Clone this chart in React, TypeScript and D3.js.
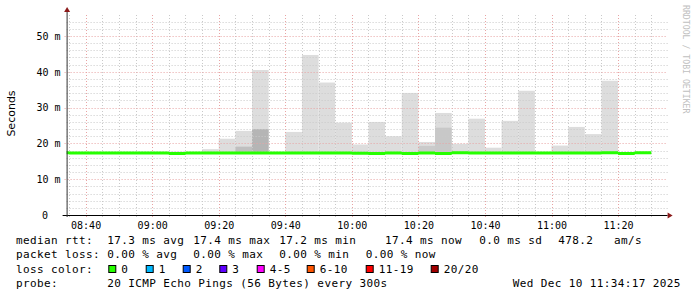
import React from 'react';
import * as d3 from 'd3';

// ---- data ----
const binStarts = [
  '08:30','08:35','08:40','08:45','08:50','08:55','09:00','09:05','09:10','09:15',
  '09:20','09:25','09:30','09:35','09:40','09:45','09:50','09:55','10:00','10:05',
  '10:10','10:15','10:20','10:25','10:30','10:35','10:40','10:45','10:50','10:55',
  '11:00','11:05','11:10','11:15','11:20','11:25'];
const medianRtt = [
  17.4, 17.3, 17.3, 17.3, 17.3, 17.3, 17.3, 17.15, 17.3, 17.3,
  17.3, 17.3, 17.3, 17.3, 17.3, 17.3, 17.3, 17.3, 17.25, 17.2,
  17.3, 17.2, 17.3, 17.2, 17.4, 17.3, 17.3, 17.3, 17.3, 17.3,
  17.3, 17.3, 17.3, 17.4, 17.2, 17.4];
const smokeMax: (number | null)[] = [
  null, null, null, null, null, null, null, 17.7, null, 18.4,
  21.3, 23.5, 40.5, null, 23.2, 44.7, 37.0, 25.8, 19.7, 26.0,
  22.0, 34.1, 20.4, 28.5, 19.9, 26.9, 18.8, 26.3, 34.7, null,
  19.4, 24.6, 22.6, 37.5, null, null];
const smokeInner: (number | null)[] = [
  null, null, null, null, null, null, null, null, null, null,
  null, 19.1, 24.0, null, null, null, null, null, null, null,
  null, null, 19.3, 24.4, null, null, null, null, null, null,
  null, null, null, null, null, null];
const smokeInnerColor = [
  '', '', '', '', '', '', '', '', '', '',
  '', '#bfbfbf', '#b5b5b5', '', '', '', '', '', '', '',
  '', '', '#cacaca', '#c8c8c8', '', '', '', '', '', '',
  '', '', '', '', '', ''];
const timeTicks = ['08:40','09:00','09:20','09:40','10:00','10:20','10:40','11:00','11:20'];
const yTicks = [0, 10, 20, 30, 40, 50];
const yTickLabels = ['0', '10 m', '20 m', '30 m', '40 m', '50 m'];
const startTime = '08:34:17';
const endTime = '11:34:17';
const dataEnd = '11:30';

const legendRtt = ['median rtt:', '17.3 ms avg', '17.4 ms max', '17.2 ms min', '17.4 ms now', '0.0 ms sd', '478.2', 'am/s'];
const legendRttX = [16, 107.3, 193.3, 279.3, 385, 479.3, 558.3, 614];
const legendLoss = ['packet loss:', '0.00 % avg', '0.00 % max', '0.00 % min', '0.00 % now'];
const legendLossX = [16, 107.3, 193.3, 279.3, 365.7];
const lossLabels = ['0', '1', '2', '3', '4-5', '6-10', '11-19', '20/20'];
const lossColors = ['#26ff00', '#00b8ff', '#0059ff', '#5e00ff', '#ff00ff', '#ff5500', '#ff0000', '#a10000'];
const lossBoxX = [108.3, 145.7, 182.7, 219.3, 256.7, 306.7, 365.7, 430.7];
const probeText = '20 ICMP Echo Pings (56 Bytes) every 300s';
const dateText = 'Wed Dec 10 11:34:17 2025';

const parseT = (s: string) => {
  const p = s.split(':').map(Number);
  return p[0] * 3600 + p[1] * 60 + (p[2] || 0);
};

export default function App() {
  const t0 = parseT(startTime), t1 = parseT(endTime);
  const x = d3.scaleLinear().domain([t0, t1]).range([66.6, 665.6]);
  const y = d3.scaleLinear().domain([0, 56]).range([215, 215 - 56 * 3.58]);
  const step = 300;
  const cx = (t: number) => x(Math.max(t0, Math.min(t1, t)));

  const bins = binStarts.map((s, i) => ({
    t: parseT(s), m: medianRtt[i], max: smokeMax[i], inner: smokeInner[i], ic: smokeInnerColor[i],
  }));

  const minorX = d3.range(parseT('08:35'), t1, 300);
  const majorX = timeTicks.map(parseT);
  const minorY = d3.range(2, 56, 2).filter(v => v % 10 !== 0);
  const majorY = yTicks.filter(v => v > 0);

  const bandPts = [...bins.map(b => ({ t: b.t, m: b.m })), { t: parseT(dataEnd), m: bins[bins.length - 1].m }];
  const band = d3.area<{ t: number; m: number }>()
    .x(d => cx(d.t))
    .y0(d => y(d.m) + 1.5)
    .y1(d => y(d.m) - 1.5)
    .curve(d3.curveStepAfter)(bandPts) || '';

  const mono = 'DejaVu Sans Mono';
  const yTop = y(56) - 1.5;

  return (
    <svg width={697} height={297} style={{ position: 'absolute', left: 0, top: 0, background: '#fff' }}>
      <rect width={697} height={297} fill="#fff" />
      {/* smoke */}
      {bins.map((b, i) => b.max != null ? (
        <rect key={'s' + i} x={cx(b.t)} width={cx(b.t + step) - cx(b.t)} y={y(b.max)} height={y(b.m) - y(b.max)} fill="#dddddd" />
      ) : null)}
      {bins.map((b, i) => b.inner != null ? (
        <rect key={'si' + i} x={cx(b.t)} width={cx(b.t + step) - cx(b.t)} y={y(b.inner)} height={y(b.m) - y(b.inner)} fill={b.ic} />
      ) : null)}
      {/* grid */}
      {minorY.map(v => (
        <line key={'hy' + v} x1={x.range()[0]} x2={x.range()[1] + 2} y1={Math.round(y(v)) + 0.5} y2={Math.round(y(v)) + 0.5}
          stroke="#c9c9c9" strokeDasharray="1,2" />
      ))}
      {minorX.filter(t => !majorX.includes(t)).map(t => (
        <line key={'vx' + t} x1={Math.round(x(t)) + 0.5} x2={Math.round(x(t)) + 0.5} y1={y(0) + 2} y2={yTop}
          stroke="#c9c9c9" strokeDasharray="1,2" />
      ))}
      {majorY.map(v => (
        <line key={'HY' + v} x1={x.range()[0] - 2} x2={x.range()[1] + 2} y1={Math.round(y(v)) + 0.5} y2={Math.round(y(v)) + 0.5}
          stroke="#e8a4a4" strokeDasharray="1,2" />
      ))}
      {majorX.map(t => (
        <line key={'VX' + t} x1={Math.round(x(t)) + 0.5} x2={Math.round(x(t)) + 0.5} y1={y(0) + 2} y2={yTop}
          stroke="#e8a4a4" strokeDasharray="1,2" />
      ))}
      {/* median band */}
      <path d={band} fill="#26ff00" />
      {/* axes */}
      <line x1={x.range()[0] - 4} x2={x.range()[1] + 2} y1={y(0) + 0.5} y2={y(0) + 0.5} stroke="#000" />
      <line x1={x.range()[0] + 0.5} x2={x.range()[0] + 0.5} y1={y(0) + 2} y2={yTop - 2} stroke="#333" />
      <path d={`M${x.range()[0] + 0.5},${yTop - 6} L${x.range()[0] - 2.5},${yTop - 1} L${x.range()[0] + 3.5},${yTop - 1} Z`} fill="#8b1a1a" />
      <path d={`M${x.range()[1] + 7},${y(0) + 0.5} L${x.range()[1] + 2},${y(0) - 2.5} L${x.range()[1] + 2},${y(0) + 3.5} Z`} fill="#8b1a1a" />
      {/* y tick labels */}
      {yTicks.map((v, i) => (
        <text key={'yl' + v} x={v === 0 ? 48 : 60.5} y={y(v) + 3.7} textAnchor="end" fontFamily={mono} fontSize={10} fill="#000">{yTickLabels[i]}</text>
      ))}
      {/* x tick labels */}
      {timeTicks.map(s => (
        <text key={'xl' + s} x={x(parseT(s)) + 0.5} y={229} textAnchor="middle" fontFamily={mono} fontSize={10} fill="#000">{s}</text>
      ))}
      <text transform="translate(14.5,113.5) rotate(-90)" textAnchor="middle" fontFamily="DejaVu Sans" fontSize={11} fill="#000">Seconds</text>
      <text transform="translate(683,5) rotate(90)" textAnchor="start" fontFamily={mono} fontSize={8.2} fill="#c0c0c0">RRDTOOL / TOBI OETIKER</text>
      {/* legend */}
      <g fontFamily={mono} fontSize={11} letterSpacing={0.38} fill="#000">
        {legendRtt.map((s, i) => <text key={'r' + i} x={legendRttX[i]} y={244} style={{ whiteSpace: 'pre' }}>{s}</text>)}
        {legendLoss.map((s, i) => <text key={'l' + i} x={legendLossX[i]} y={258.3}>{s}</text>)}
        <text x={16} y={272.7}>loss color:</text>
        {lossLabels.map((s, i) => (
          <g key={'c' + i}>
            <rect x={lossBoxX[i] + 0.5} y={265.5} width={7} height={7} fill={lossColors[i]} stroke="#000" />
            <text x={lossBoxX[i] + 13} y={272.7}>{s}</text>
          </g>
        ))}
        <text x={16} y={287.3}>probe:</text>
        <text x={107.3} y={287.3}>{probeText}</text>
        <text x={512.7} y={287.3}>{dateText}</text>
      </g>
    </svg>
  );
}
